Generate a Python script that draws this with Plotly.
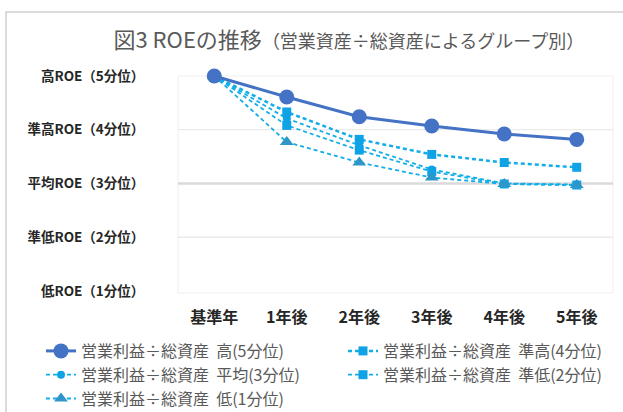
import plotly.graph_objects as go

categories = ["基準年", "1年後", "2年後", "3年後", "4年後", "5年後"]
series_names = [
    "営業利益÷総資産  高(5分位)",
    "営業利益÷総資産  準高(4分位)",
    "営業利益÷総資産  平均(3分位)",
    "営業利益÷総資産  準低(2分位)",
    "営業利益÷総資産  低(1分位)",
]
high = [5.0, 4.61, 4.24, 4.07, 3.92, 3.82]
semi_high = [5.0, 4.33, 3.82, 3.54, 3.39, 3.30]
average = [5.0, 4.21, 3.71, 3.26, 3.00, 2.98]
semi_low = [5.0, 4.08, 3.62, 3.22, 2.99, 2.97]
low = [5.0, 3.77, 3.39, 3.11, 2.99, 2.97]
y_tickvals = [1, 2, 3, 4, 5]
y_ticktext = ["低ROE（1分位）", "準低ROE（2分位）", "平均ROE（3分位）", "準高ROE（4分位）", "高ROE（5分位）"]

FONT = "Noto Sans CJK JP"
# plot area in pixels
L, R, T, B = 178, 613, 76, 293
W, H = R - L, B - T


def px_x(p):
    return (p - L) / W


def px_y(p):
    return (B - p) / H


styles = [
    dict(values=high, color="#4472C4", dash="solid", width=3, symbol="circle", size=15, mcolor="#4472C4", legend="legend"),
    dict(values=semi_high, color="#12AEE8", dash="4px,3px", width=2.5, symbol="square", size=9, mcolor="#0FA3E6", legend="legend2"),
    dict(values=average, color="#12AEE8", dash="4px,3px", width=1.8, symbol="circle", size=8, mcolor="#0FA3E6", legend="legend"),
    dict(values=semi_low, color="#12AEE8", dash="4px,3px", width=1.8, symbol="square", size=9, mcolor="#0FA3E6", legend="legend2"),
    dict(values=low, color="#12AEE8", dash="4px,3px", width=1.8, symbol="triangle-up", size=12, mcolor="#2E96C8", legend="legend"),
]
traces = []
for name, st in zip(series_names, styles):
    traces.append(go.Scatter(
        x=categories, y=st["values"], name=name, mode="lines+markers",
        line=dict(color=st["color"], width=st["width"], dash=st["dash"]),
        marker=dict(symbol=st["symbol"], size=st["size"], color=st["mcolor"]),
        cliponaxis=False, legend=st["legend"],
    ))
# draw 'high' on top
fig = go.Figure(data=traces[1:] + traces[:1])

shapes = []
shapes.append(dict(type="rect", xref="paper", yref="paper",
                   x0=px_x(6), x1=px_x(640), y0=px_y(430), y1=px_y(12),
                   line=dict(color="#D0D0D0", width=1.5), fillcolor="rgba(0,0,0,0)", layer="below"))
shapes.append(dict(type="rect", xref="paper", yref="paper", x0=0, x1=1, y0=0, y1=1,
                   line=dict(color="#EFEFEF", width=1), layer="below"))
for v, w, c in [(4, 1, "#E6E6E6"), (3, 2.5, "#DADADA"), (2, 1, "#E0E0E0")]:
    shapes.append(dict(type="line", xref="paper", yref="y", x0=0, x1=1, y0=v, y1=v,
                       line=dict(color=c, width=w), layer="below"))

legend_font = dict(family=FONT, size=16, color="#595959")
fig.update_layout(
    width=623, height=412,
    margin=dict(l=L, r=623 - R, t=T, b=412 - B, autoexpand=False),
    paper_bgcolor="white", plot_bgcolor="white",
    font=dict(family=FONT, color="#404040"),
    title=dict(
        text="図3 ROEの推移<span style='font-size:18px'>（営業資産÷総資産によるグループ別）</span>",
        font=dict(family=FONT, size=22, color="#595959"),
        xref="container", x=0.56, xanchor="center", yref="container", y=0.903, yanchor="middle",
    ),
    xaxis=dict(type="category", range=[-0.5, 5.5], showgrid=False, zeroline=False, showline=False,
               ticks="outside", ticklen=10, tickcolor="rgba(0,0,0,0)", automargin=False,
               tickfont=dict(family=FONT, size=16, color="#262626", weight="bold")),
    yaxis=dict(range=[0.96, 5.0], tickvals=y_tickvals, ticktext=y_ticktext, showgrid=False,
               zeroline=False, showline=False, ticks="outside", ticklen=30, tickcolor="rgba(0,0,0,0)",
               automargin=False,
               tickfont=dict(family=FONT, size=13.5, color="#262626", weight="bold")),
    shapes=shapes,
    showlegend=True,
    legend=dict(orientation="v", x=px_x(41), xanchor="left", y=px_y(334), yanchor="top",
                font=legend_font, traceorder="normal", bgcolor="rgba(0,0,0,0)"),
    legend2=dict(orientation="v", x=px_x(343), xanchor="left", y=px_y(334), yanchor="top",
                 font=legend_font, traceorder="normal", bgcolor="rgba(0,0,0,0)"),
)

for tr in fig.data:
    tr.legendrank = series_names.index(tr.name) + 1

fig.write_html("out.html")
